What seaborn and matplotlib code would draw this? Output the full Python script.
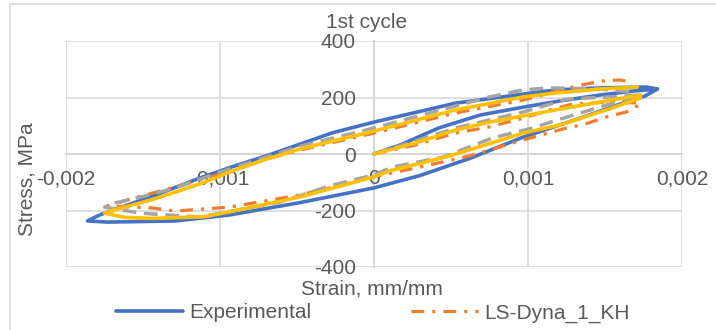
import matplotlib
matplotlib.use("Agg")
import matplotlib.pyplot as plt
import seaborn as sns
from matplotlib.patches import Rectangle

# strain (mm/mm) / stress (MPa), 1st cycle loops
exp_strain = [0, 0.00017, 0.00042, 0.00069, 0.00097, 0.00121, 0.00147, 0.00169, 0.00184,
              0.00176, 0.00162, 0.00134, 0.00097, 0.00062, 0.0003, 0, -0.00048, -0.00094,
              -0.00129, -0.00173, -0.00186, -0.00181, -0.00175, -0.00145, -0.00113, -0.00092,
              -0.00069, -0.00048, -0.00027, 0, 0.00053, 0.00097, 0.00118, 0.00147, 0.00177, 0.00184]
exp_stress = [0, 32, 92, 138, 166, 188, 209, 223, 230,
              205, 181, 127, 60, -16, -76, -120, -172, -216,
              -237, -241, -237, -223, -209, -152, -85, -45,
              -5, 35, 75, 113, 180, 212, 227, 234, 237, 230]

kh_strain = [0, 0.00027, 0.00053, 0.00075, 0.00097, 0.00114, 0.00129, 0.00153, 0.00173,
             0.00172, 0.00164, 0.00151, 0.00137, 0.00123, 0.00097, 0.00062, 0.0003, 0, -0.00048,
             -0.00094, -0.00129, -0.00144, -0.00173, -0.00158, -0.00134, -0.001, -0.00072,
             -0.00048, 0, 0.00053, 0.00097, 0.00132, 0.00147, 0.0016, 0.00166]
kh_stress = [0, 32, 74, 96, 127, 156, 177, 184, 180,
             173, 149, 131, 106, 89, 50, -7, -46, -81, -145,
             -188, -202, -191, -184, -159, -124, -71, -21,
             14, 74, 145, 191, 241, 258, 262, 255]

dyna2_strain = [0, 0.00053, 0.00097, 0.00126, 0.00153, 0.00173,
                0.00166, 0.00153, 0.00134, 0.00117, 0.00103, 0.00077, 0.00045, 0.00012, 0,
                -0.00027, -0.00061, -0.00113, -0.00145, -0.00152, -0.00175,
                -0.00168, -0.00151, -0.00129, -0.001, -0.00072, -0.00048, 0, 0.00053,
                0.00075, 0.00097, 0.00114, 0.00147, 0.00168]
dyna2_stress = [0, 92, 149, 195, 202, 209,
                191, 177, 145, 117, 92, 57, -11, -46, -74,
                -110, -170, -223, -212, -209, -188,
                -173, -152, -120, -64, -14, 28, 92, 170,
                202, 227, 234, 230, 219]

dyna3_strain = [0, 0.00027, 0.00053, 0.00075, 0.00097, 0.00118, 0.00147, 0.00173,
                0.00173, 0.0016, 0.00147, 0.00121, 0.00097, 0.00049, 0.0001, 0, -0.00048,
                -0.00094, -0.0011, -0.00145, -0.00162, -0.00175,
                -0.00162, -0.00145, -0.00129, -0.0011, -0.00092, -0.00072, -0.00048, 0, 0.00053,
                0.00097, 0.00118, 0.00147, 0.00171]
dyna3_stress = [0, 39, 85, 113, 135, 156, 184, 209,
                198, 173, 149, 103, 74, -7, -60, -81, -152,
                -205, -222, -228, -224, -209,
                -188, -163, -135, -100, -60, -22, 18, 81, 156,
                202, 216, 230, 237]

x_ticks = [-0.002, -0.001, 0, 0.001, 0.002]
y_ticks = [-400, -200, 0, 200, 400]

txt = "#595959"
grid_c = "#D9D9D9"

sns.set_style("white")
plt.rcParams['font.family'] = ['Liberation Sans', 'DejaVu Sans']
plt.rcParams['font.size'] = 15

fig = plt.figure(figsize=(7.16, 3.3), dpi=100)
ax = fig.add_axes([66 / 716, 1 - 267 / 330, 616 / 716, 226 / 330])

sns.lineplot(x=exp_strain, y=exp_stress, sort=False, estimator=None, ax=ax,
             color="#4472C4", lw=2.6, solid_joinstyle="round", solid_capstyle="round",
             label="Experimental", legend=False)
sns.lineplot(x=kh_strain, y=kh_stress, sort=False, estimator=None, ax=ax,
             color="#ED7D31", lw=2.3, linestyle=(0, (4, 2.5, 1, 2.5)),
             label="LS-Dyna_1_KH", legend=False)
sns.lineplot(x=dyna2_strain, y=dyna2_stress, sort=False, estimator=None, ax=ax,
             color="#A5A5A5", lw=2.5, linestyle=(0, (4, 2.2)),
             label="LS-Dyna_2", legend=False)
sns.lineplot(x=dyna3_strain, y=dyna3_stress, sort=False, estimator=None, ax=ax,
             color="#FFC000", lw=2.6, solid_joinstyle="round", solid_capstyle="round",
             label="LS-Dyna_3", legend=False)

ax.set_xlim(-0.002, 0.002)
ax.set_ylim(-400, 400)
ax.set_xticks(x_ticks)
ax.set_yticks(y_ticks)
ax.set_xticklabels([f"{v:g}".replace(".", ",") if v != 0 else "0" for v in x_ticks])
ax.set_yticklabels([str(v) for v in y_ticks])
ax.grid(True, color=grid_c, lw=1.2)
ax.set_axisbelow(True)

for s in ["top", "right"]:
    ax.spines[s].set_visible(False)
ax.spines["left"].set_position(("data", 0))
ax.spines["bottom"].set_position(("data", 0))
for s in ["left", "bottom"]:
    ax.spines[s].set_color("#BFBFBF")
    ax.spines[s].set_linewidth(1.2)
    ax.spines[s].set_zorder(0.5)
ax.tick_params(axis="x", length=0, pad=11, colors=txt, labelsize=15)
ax.tick_params(axis="y", length=0, pad=13, colors=txt, labelsize=15)
ax.set_xlabel("")
ax.set_ylabel("")

fig.text(367 / 716, 1 - 22 / 330, "1st cycle", ha="center", va="center", color=txt, fontsize=15)
fig.text(372 / 716, 1 - 289 / 330, "Strain, mm/mm", ha="center", va="center", color=txt, fontsize=15)
fig.text(27 / 716, 1 - 179 / 330, "Stress, MPa", ha="center", va="center", rotation=90,
         color=txt, fontsize=15)

handles = ax.get_lines()[:2]
fig.legend(handles, ["Experimental", "LS-Dyna_1_KH"], loc="center",
           bbox_to_anchor=(373 / 716, 1 - 313 / 330), ncol=2, frameon=False,
           handlelength=3.2, handletextpad=0.3, columnspacing=4.8, fontsize=15,
           labelcolor=txt)

fig.patches.append(Rectangle((10 / 716, -0.1), 1.1, 1.1 - 4 / 330, transform=fig.transFigure,
                             fill=False, edgecolor=grid_c, lw=1.2))

fig.savefig("out.png", dpi=100)
